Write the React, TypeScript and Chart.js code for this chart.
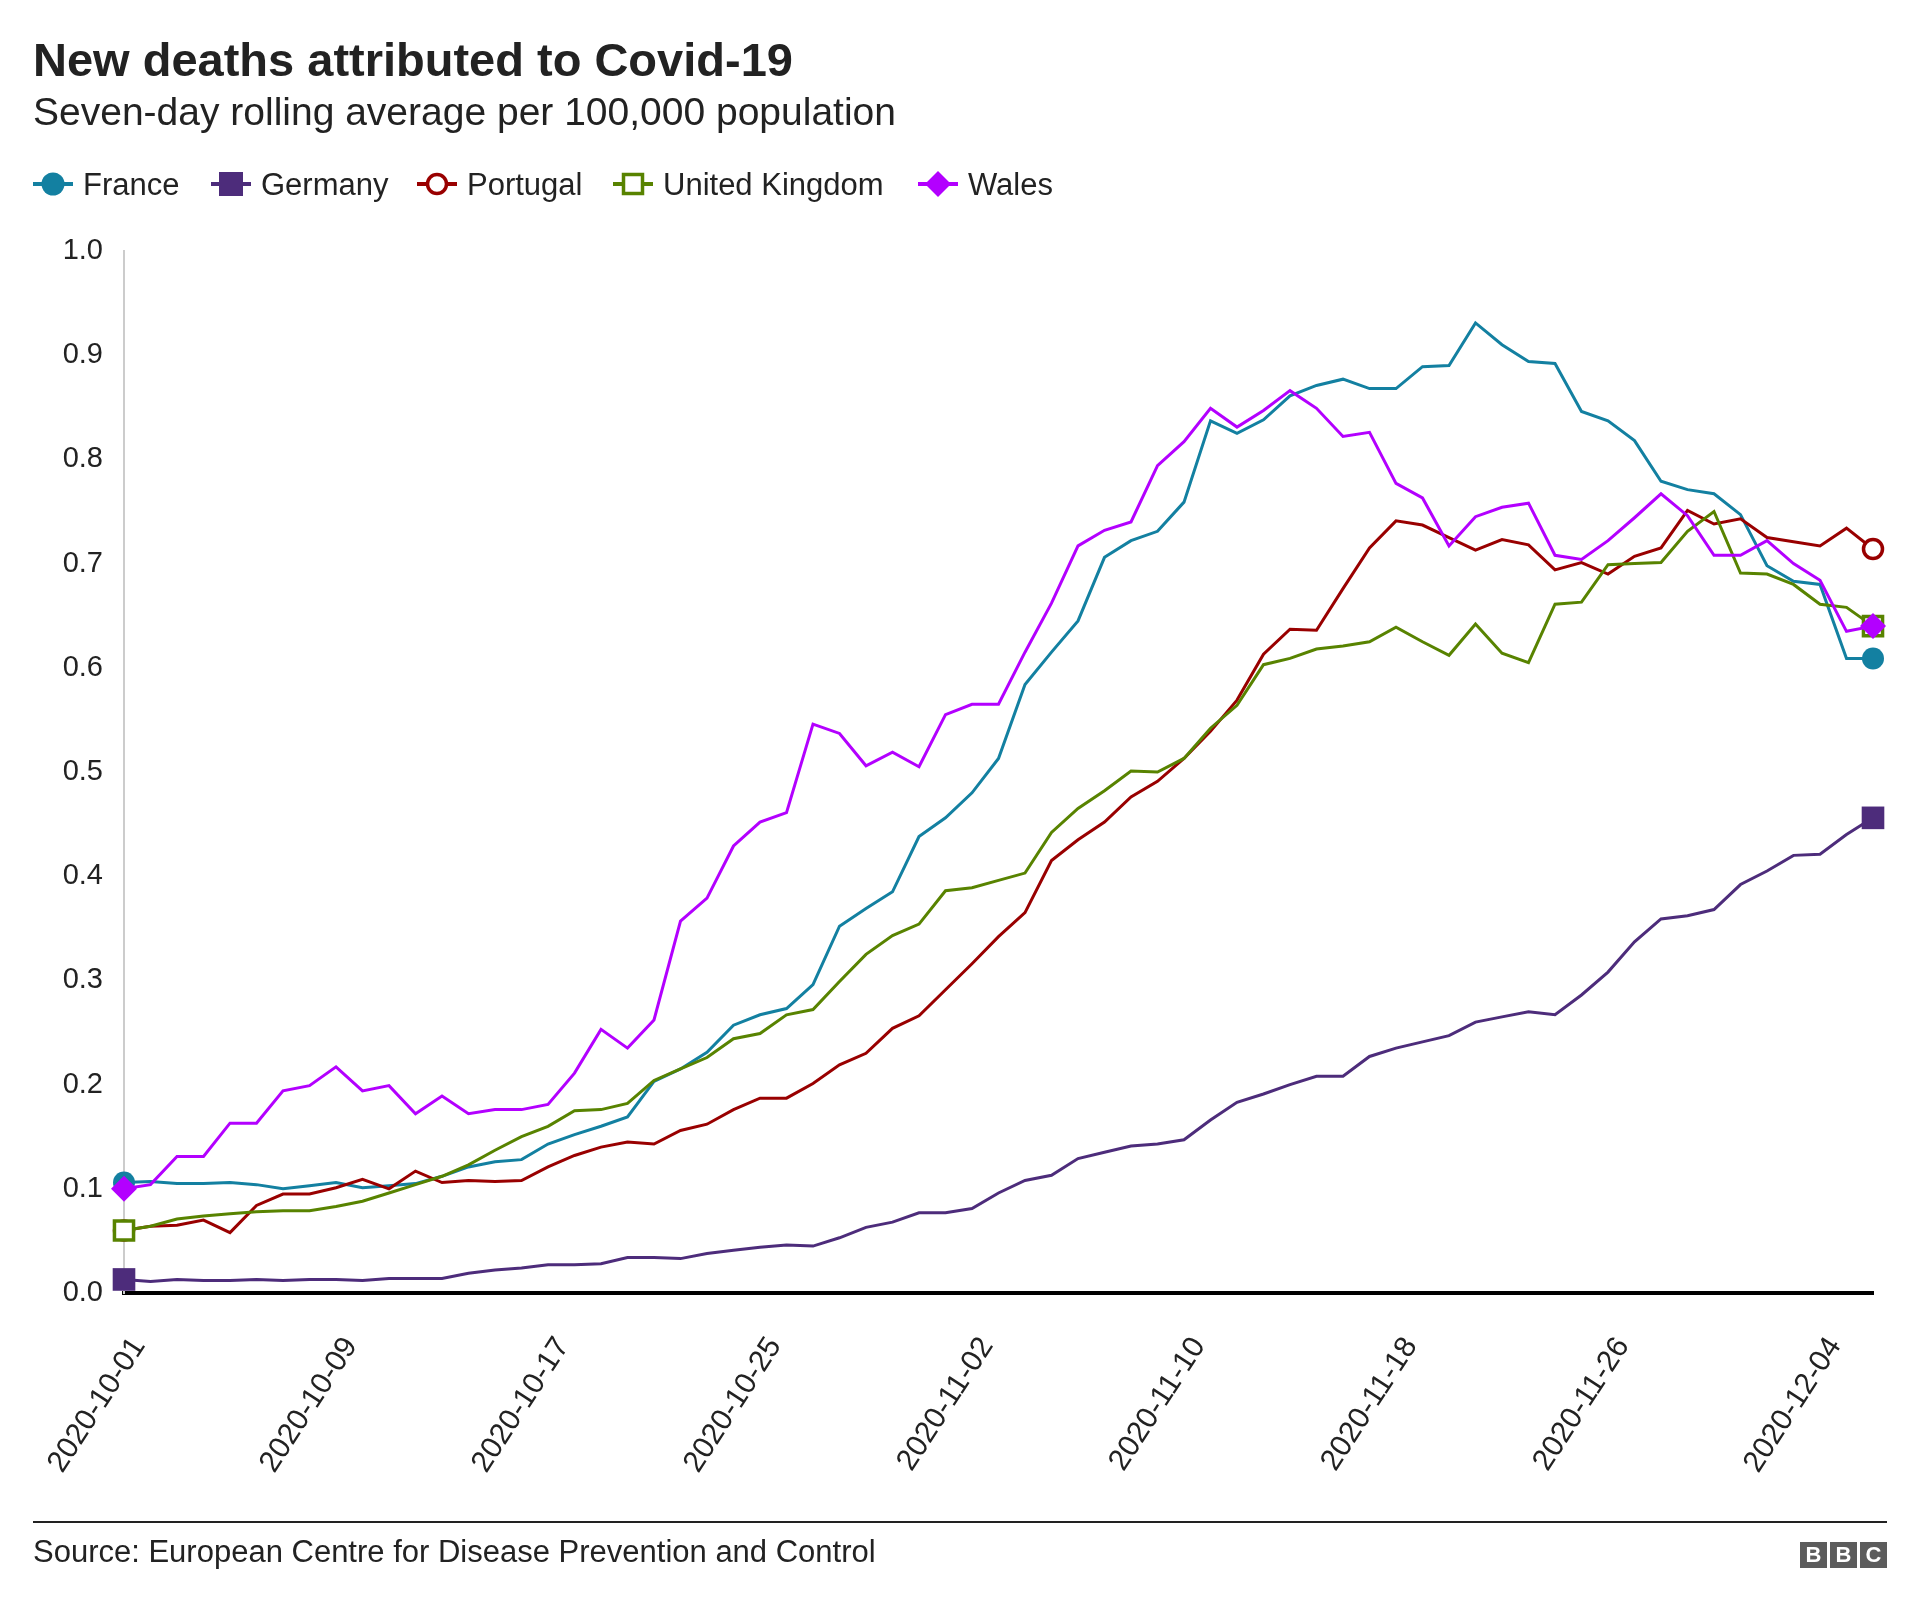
import React, { useEffect, useRef } from 'react';
import { Chart, registerables } from 'chart.js';

Chart.register(...registerables);

const dates = [
  '2020-10-01', '2020-10-02', '2020-10-03', '2020-10-04', '2020-10-05', '2020-10-06', '2020-10-07', '2020-10-08',
  '2020-10-09', '2020-10-10', '2020-10-11', '2020-10-12', '2020-10-13', '2020-10-14', '2020-10-15', '2020-10-16',
  '2020-10-17', '2020-10-18', '2020-10-19', '2020-10-20', '2020-10-21', '2020-10-22', '2020-10-23', '2020-10-24',
  '2020-10-25', '2020-10-26', '2020-10-27', '2020-10-28', '2020-10-29', '2020-10-30', '2020-10-31',
  '2020-11-01', '2020-11-02', '2020-11-03', '2020-11-04', '2020-11-05', '2020-11-06', '2020-11-07', '2020-11-08',
  '2020-11-09', '2020-11-10', '2020-11-11', '2020-11-12', '2020-11-13', '2020-11-14', '2020-11-15', '2020-11-16',
  '2020-11-17', '2020-11-18', '2020-11-19', '2020-11-20', '2020-11-21', '2020-11-22', '2020-11-23', '2020-11-24',
  '2020-11-25', '2020-11-26', '2020-11-27', '2020-11-28', '2020-11-29', '2020-11-30',
  '2020-12-01', '2020-12-02', '2020-12-03', '2020-12-04', '2020-12-05', '2020-12-06',
];

const xTickLabels = [
  '2020-10-01', '2020-10-09', '2020-10-17', '2020-10-25', '2020-11-02',
  '2020-11-10', '2020-11-18', '2020-11-26', '2020-12-04',
];

const yTickValues = [0, 0.1, 0.2, 0.3, 0.4, 0.5, 0.6, 0.7, 0.8, 0.9, 1.0];

const france = [
  0.106, 0.107, 0.105, 0.105, 0.106, 0.104, 0.100, 0.103, 0.106, 0.101,
  0.103, 0.105, 0.112, 0.121, 0.126, 0.128, 0.143, 0.152, 0.160, 0.169,
  0.203, 0.215, 0.231, 0.257, 0.267, 0.273, 0.296, 0.352, 0.369, 0.385,
  0.438, 0.456, 0.480, 0.513, 0.584, 0.615, 0.645, 0.706, 0.722, 0.731,
  0.759, 0.837, 0.825, 0.838, 0.861, 0.871, 0.877, 0.868, 0.868, 0.889,
  0.890, 0.931, 0.910, 0.894, 0.892, 0.846, 0.837, 0.818, 0.779, 0.771,
  0.767, 0.747, 0.698, 0.683, 0.680, 0.609, 0.609,
];

const germany = [
  0.013, 0.011, 0.013, 0.012, 0.012, 0.013, 0.012, 0.013, 0.013, 0.012,
  0.014, 0.014, 0.014, 0.019, 0.022, 0.024, 0.027, 0.027, 0.028, 0.034,
  0.034, 0.033, 0.038, 0.041, 0.044, 0.046, 0.045, 0.053, 0.063, 0.068,
  0.077, 0.077, 0.081, 0.096, 0.108, 0.113, 0.129, 0.135, 0.141, 0.143,
  0.147, 0.166, 0.183, 0.191, 0.200, 0.208, 0.208, 0.227, 0.235, 0.241,
  0.247, 0.260, 0.265, 0.270, 0.267, 0.286, 0.308, 0.337, 0.359, 0.362,
  0.368, 0.392, 0.405, 0.420, 0.421, 0.440, 0.456,
];

const portugal = [
  0.060, 0.064, 0.065, 0.070, 0.058, 0.084, 0.095, 0.095, 0.101, 0.109,
  0.100, 0.117, 0.106, 0.108, 0.107, 0.108, 0.121, 0.132, 0.140, 0.145,
  0.143, 0.156, 0.162, 0.176, 0.187, 0.187, 0.201, 0.219, 0.230, 0.254,
  0.266, 0.291, 0.316, 0.342, 0.365, 0.415, 0.435, 0.452, 0.476, 0.491,
  0.513, 0.539, 0.569, 0.613, 0.637, 0.636, 0.676, 0.715, 0.741, 0.737,
  0.725, 0.713, 0.723, 0.718, 0.694, 0.701, 0.690, 0.707, 0.715, 0.751,
  0.738, 0.743, 0.725, 0.721, 0.717, 0.734, 0.714,
];

const unitedKingdom = [
  0.060, 0.064, 0.071, 0.074, 0.076, 0.078, 0.079, 0.079, 0.083, 0.088,
  0.096, 0.104, 0.112, 0.123, 0.137, 0.150, 0.160, 0.175, 0.176, 0.182,
  0.204, 0.215, 0.226, 0.244, 0.249, 0.267, 0.272, 0.299, 0.325, 0.343,
  0.354, 0.386, 0.389, 0.396, 0.403, 0.442, 0.465, 0.482, 0.501, 0.500,
  0.513, 0.542, 0.564, 0.603, 0.609, 0.618, 0.621, 0.625, 0.639, 0.625,
  0.612, 0.642, 0.614, 0.605, 0.661, 0.663, 0.699, 0.700, 0.701, 0.731,
  0.750, 0.691, 0.690, 0.680, 0.661, 0.658, 0.640,
];

const wales = [
  0.100, 0.104, 0.131, 0.131, 0.163, 0.163, 0.194, 0.199, 0.217, 0.194,
  0.199, 0.172, 0.189, 0.172, 0.176, 0.176, 0.181, 0.211, 0.253, 0.235,
  0.262, 0.357, 0.379, 0.429, 0.452, 0.461, 0.546, 0.537, 0.506, 0.519,
  0.505, 0.555, 0.565, 0.565, 0.615, 0.662, 0.717, 0.732, 0.740, 0.794,
  0.817, 0.849, 0.831, 0.847, 0.866, 0.849, 0.822, 0.826, 0.777, 0.763,
  0.717, 0.745, 0.754, 0.758, 0.708, 0.704, 0.722, 0.744, 0.767, 0.746,
  0.708, 0.708, 0.722, 0.700, 0.684, 0.635, 0.640,
];

const FONT = '"Liberation Sans", Arial, Helvetica, sans-serif';
const TEXT = '#222222';

const seriesNames = ['France', 'Germany', 'Portugal', 'United Kingdom', 'Wales'];
const seriesColors = ['#1380a1', '#4d2c7b', '#990000', '#588300', '#b300ff'];

function endsOnly(r: number) {
  return (ctx: any) => {
    const n = ctx.dataset.data.length;
    return ctx.dataIndex === 0 || ctx.dataIndex === n - 1 ? r : 0;
  };
}

function LegendSymbol({ kind, color }: { kind: string; color: string }) {
  return (
    <svg width={40} height={30} style={{ display: 'block' }}>
      <line x1={0} y1={15} x2={40} y2={15} stroke={color} strokeWidth={4} />
      {kind === 'circle' && <circle cx={20} cy={15} r={11.5} fill={color} />}
      {kind === 'square' && <rect x={8} y={3} width={24} height={24} fill={color} />}
      {kind === 'hollowCircle' && (
        <circle cx={20} cy={15} r={9.5} fill="#ffffff" stroke={color} strokeWidth={3.5} />
      )}
      {kind === 'hollowSquare' && (
        <rect x={10.5} y={5.5} width={19} height={19} fill="#ffffff" stroke={color} strokeWidth={3.5} />
      )}
      {kind === 'diamond' && <polygon points="20,2 33,15 20,28 7,15" fill={color} />}
    </svg>
  );
}

export default function App() {
  const canvasRef = useRef<HTMLCanvasElement | null>(null);

  useEffect(() => {
    const canvas = canvasRef.current;
    if (!canvas) return;
    const base = {
      borderWidth: 3,
      fill: false,
      tension: 0,
      clip: false as any,
      pointBorderWidth: 0,
    };
    const chart = new Chart(canvas, {
      type: 'line',
      data: {
        labels: dates,
        datasets: [
          {
            ...base,
            label: seriesNames[0],
            data: france,
            borderColor: seriesColors[0],
            backgroundColor: seriesColors[0],
            pointStyle: 'circle',
            pointRadius: endsOnly(11),
            pointBackgroundColor: seriesColors[0],
            order: 4,
          },
          {
            ...base,
            label: seriesNames[1],
            data: germany,
            borderColor: seriesColors[1],
            backgroundColor: seriesColors[1],
            pointStyle: 'rect',
            pointRadius: endsOnly(16),
            pointBackgroundColor: seriesColors[1],
            order: 3,
          },
          {
            ...base,
            label: seriesNames[2],
            data: portugal,
            borderColor: seriesColors[2],
            backgroundColor: '#ffffff',
            pointStyle: 'circle',
            pointRadius: endsOnly(9.5),
            pointBackgroundColor: '#ffffff',
            pointBorderColor: seriesColors[2],
            pointBorderWidth: 3.5,
            order: 2,
          },
          {
            ...base,
            label: seriesNames[3],
            data: unitedKingdom,
            borderColor: seriesColors[3],
            backgroundColor: '#ffffff',
            pointStyle: 'rect',
            pointRadius: endsOnly(13.5),
            pointBackgroundColor: '#ffffff',
            pointBorderColor: seriesColors[3],
            pointBorderWidth: 3.5,
            order: 1,
          },
          {
            ...base,
            label: seriesNames[4],
            data: wales,
            borderColor: seriesColors[4],
            backgroundColor: seriesColors[4],
            pointStyle: 'rectRot',
            pointRadius: endsOnly(13),
            pointBackgroundColor: seriesColors[4],
            order: 0,
          },
        ],
      },
      options: {
        responsive: false,
        maintainAspectRatio: false,
        animation: false,
        devicePixelRatio: 1,
        events: [],
        layout: { padding: { left: 0, top: 251, right: 47, bottom: 116 } },
        plugins: {
          legend: { display: false },
          tooltip: { enabled: false },
          title: { display: false },
        },
        scales: {
          x: {
            type: 'category',
            offset: false,
            grid: { display: false, drawTicks: false },
            border: { display: true, color: '#000000', width: 4 },
            afterBuildTicks: (scale: any) => {
              scale.ticks = scale.ticks.filter((t: any) => xTickLabels.includes(dates[t.value]));
            },
            afterFit: (scale: any) => {
              scale.height = 200;
            },
            ticks: {
              autoSkip: false,
              minRotation: 57,
              maxRotation: 57,
              padding: 38,
              labelOffset: 15,
              color: TEXT,
              font: { family: FONT, size: 30 },
            },
          },
          y: {
            type: 'linear',
            min: 0,
            max: 1,
            grid: { display: false, drawTicks: false },
            border: { display: true, color: '#cccccc', width: 2 },
            afterBuildTicks: (scale: any) => {
              scale.ticks = yTickValues.map((v) => ({ value: v }));
            },
            afterFit: (scale: any) => {
              scale.width = 124;
            },
            ticks: {
              padding: 21,
              color: TEXT,
              font: { family: FONT, size: 29 },
              callback: (v: any) => Number(v).toFixed(1),
            },
          },
        },
      },
    });
    return () => chart.destroy();
  }, []);

  const legendItems = [
    { name: seriesNames[0], color: seriesColors[0], kind: 'circle', left: 33 },
    { name: seriesNames[1], color: seriesColors[1], kind: 'square', left: 211 },
    { name: seriesNames[2], color: seriesColors[2], kind: 'hollowCircle', left: 417 },
    { name: seriesNames[3], color: seriesColors[3], kind: 'hollowSquare', left: 613 },
    { name: seriesNames[4], color: seriesColors[4], kind: 'diamond', left: 918 },
  ];

  return (
    <div
      style={{
        position: 'absolute',
        left: 0,
        top: 0,
        width: 1920,
        height: 1609,
        background: '#ffffff',
        overflow: 'hidden',
        fontFamily: FONT,
        color: TEXT,
      }}
    >
      <canvas
        ref={canvasRef}
        width={1920}
        height={1609}
        style={{ position: 'absolute', left: 0, top: 0, width: 1920, height: 1609 }}
      />
      <div
        style={{
          position: 'absolute',
          left: 33,
          top: 36,
          fontSize: 47,
          lineHeight: '47px',
          fontWeight: 'bold',
          whiteSpace: 'nowrap',
        }}
      >
        New deaths attributed to Covid-19
      </div>
      <div
        style={{
          position: 'absolute',
          left: 33,
          top: 92,
          fontSize: 39,
          lineHeight: '39px',
          whiteSpace: 'nowrap',
        }}
      >
        Seven-day rolling average per 100,000 population
      </div>
      {legendItems.map((it) => (
        <div
          key={it.name}
          style={{
            position: 'absolute',
            left: it.left,
            top: 169,
            height: 30,
            display: 'flex',
            alignItems: 'center',
            whiteSpace: 'nowrap',
          }}
        >
          <LegendSymbol kind={it.kind} color={it.color} />
          <span style={{ marginLeft: 10, fontSize: 31, lineHeight: '31px' }}>{it.name}</span>
        </div>
      ))}
      <div
        style={{
          position: 'absolute',
          left: 33,
          top: 1521,
          width: 1854,
          height: 2,
          background: '#222222',
        }}
      />
      <div
        style={{
          position: 'absolute',
          left: 33,
          top: 1536,
          fontSize: 31,
          lineHeight: '31px',
          whiteSpace: 'nowrap',
        }}
      >
        Source: European Centre for Disease Prevention and Control
      </div>
      <div style={{ position: 'absolute', left: 1800, top: 1542, display: 'flex', gap: 3 }}>
        {['B', 'B', 'C'].map((ch, i) => (
          <div
            key={i}
            style={{
              width: 27,
              height: 26,
              background: '#5c5c5c',
              color: '#ffffff',
              fontSize: 22,
              lineHeight: '26px',
              fontWeight: 'bold',
              textAlign: 'center',
            }}
          >
            {ch}
          </div>
        ))}
      </div>
    </div>
  );
}
